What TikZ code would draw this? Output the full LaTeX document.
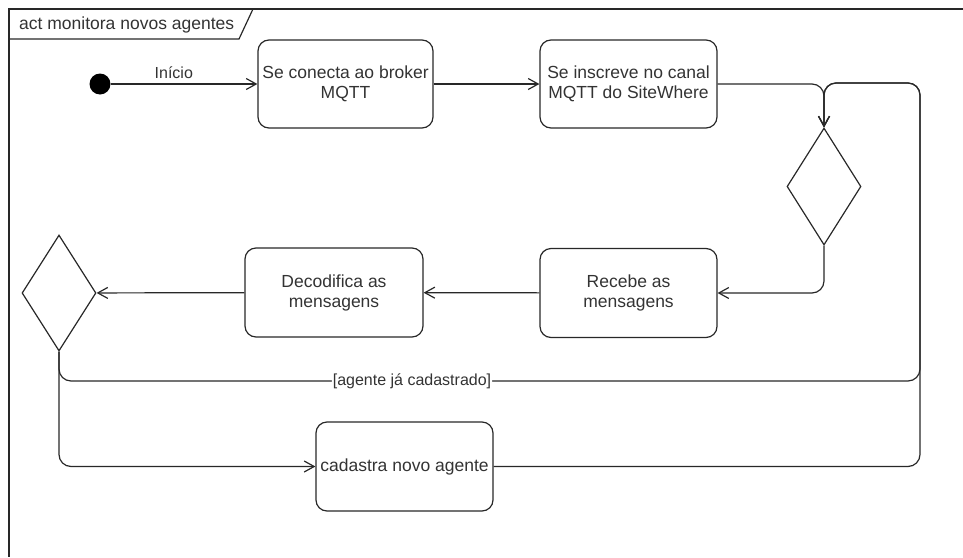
\documentclass[tikz,border=0pt]{standalone}
\usepackage{fontspec}
\setmainfont{Liberation Sans}
\usetikzlibrary{arrows.meta,shapes.geometric}
\definecolor{ink}{RGB}{51,51,51}
\definecolor{ln}{RGB}{40,40,40}
\tikzset{
  actbox/.style={draw=ln, line width=1.2pt, rounded corners=11pt, align=center,
    text=ink, inner sep=0pt, font=\fontsize{17.5}{20}\selectfont},
  dec/.style={draw=ln, line width=1.2pt, diamond, inner sep=0pt, aspect=0.63},
  arr/.style={draw=ln, line width=1.2pt, -{Straight Barb[length=10pt,width=11pt]}},
  ln/.style={draw=ln, line width=1.2pt},
  lbl/.style={text=ink, font=\fontsize{16}{18}\selectfont, inner sep=1pt}
}
\begin{document}
\begin{tikzpicture}[x=1pt,y=-1pt]
\useasboundingbox (0,0) rectangle (963,557);
% frame
\draw[ln] (963,9) -- (9,9) -- (9,557);
\draw[ln] (9,39) -- (239,39) -- (253,9);
\node[text=ink, font=\fontsize{17.5}{20}\selectfont, anchor=west, inner sep=0pt] (title) at (19,25) {act monitora novos agentes};
% nodes
\node[circle, fill=black, minimum size=21pt, inner sep=0pt] (init) at (100,84) {};
\node[actbox, minimum width=175pt, minimum height=88pt] (b1) at (345.5,84) {Se conecta ao broker\\MQTT};
\node[actbox, minimum width=177pt, minimum height=88pt] (b2) at (628.5,84) {Se inscreve no canal\\MQTT do SiteWhere};
\node[dec, minimum width=74pt, minimum height=117pt] (d1) at (824,186.5) {};
\node[actbox, minimum width=177pt, minimum height=89pt] (b3) at (628.5,293) {Recebe as\\mensagens};
\node[actbox, minimum width=178pt, minimum height=89pt] (b4) at (334,292.5) {Decodifica as\\mensagens};
\node[dec, minimum width=74pt, minimum height=116pt] (d2) at (59,293) {};
\node[actbox, minimum width=177pt, minimum height=89pt] (b5) at (404.5,466.5) {cadastra novo agente};
\coordinate (r1) at (920,381);
\coordinate (r2) at (920,83);
% connectors
\draw[arr] (init) -- node[lbl, above=4pt, pos=0.43] (linicio) {Início} (b1);
\draw[arr] (b1) -- (b2);
\draw[arr, rounded corners=12pt] (b2.east) -| (d1.north);
\draw[arr, rounded corners=12pt] (d1.south) |- (b3.east);
\draw[arr] (b3) -- (b4);
\draw[arr] (b4) -- (d2);
\draw[arr, rounded corners=12pt] (d2.south) |- (b5.west);
\draw[arr, rounded corners=12pt] (d2.south) |- node[lbl, fill=white, pos=0.705] (lcad) {[agente já cadastrado]} (r1) -- (r2) -| (d1.north);
\draw[arr, rounded corners=12pt] (b5.east) -| (r2) -| (d1.north);
\end{tikzpicture}
\end{document}
